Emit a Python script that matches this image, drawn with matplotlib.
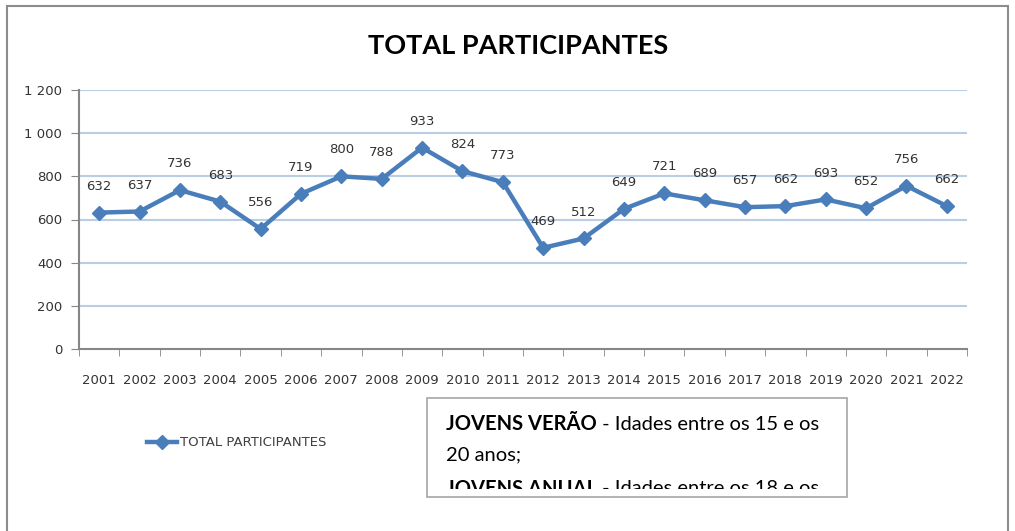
import matplotlib
matplotlib.use("Agg")
import matplotlib.pyplot as plt
from matplotlib.patches import Rectangle

# ==========================================
# Data
# ==========================================
years = [str(y) for y in range(2001, 2023)]
participants = [632, 637, 736, 683, 556, 719, 800, 788, 933, 824, 773,
                469, 512, 649, 721, 689, 657, 662, 693, 652, 756, 662]
y_ticks = [0, 200, 400, 600, 800, 1000, 1200]
y_tick_labels = ["0", "200", "400", "600", "800", "1 000", "1 200"]

W, H = 1015, 531
LINE_COLOR = "#4a7ebb"
GRID_COLOR = "#b9cde5"
AXIS_COLOR = "#868686"

def fx(px):
    return px / W

def fy(py):
    return 1 - py / H

fig = plt.figure(figsize=(W / 100, H / 100), dpi=100)

# outer chart border
fig.patches.append(Rectangle((fx(7), fy(535)), fx(1008) - fx(7), fy(6) - fy(535),
                             transform=fig.transFigure, fill=False,
                             edgecolor="#8c8c8c", linewidth=1.5))

ax = fig.add_axes([fx(79), fy(349), fx(967) - fx(79), fy(90) - fy(349)])
x = list(range(len(years)))
ax.plot(x, participants, color=LINE_COLOR, linewidth=3.2, marker="D",
        markersize=7, label="TOTAL PARTICIPANTES", zorder=3)

for xi, v in zip(x, participants):
    ax.annotate(str(v), (xi, v), xytext=(0, 19), textcoords="offset points",
                ha="center", va="center", fontsize=9.5, color="#333333")

ax.set_xlim(-0.5, len(years) - 0.5)
ax.set_ylim(0, 1200)
ax.set_yticks(y_ticks)
ax.set_yticklabels(y_tick_labels, fontsize=9.5, color="#333333")
ax.set_xticks(x)
ax.set_xticklabels(years, fontsize=9.5, color="#333333")
ax.set_xticks([i - 0.5 for i in range(len(years) + 1)], minor=True)
ax.tick_params(axis="x", which="major", length=0, pad=18)
ax.tick_params(axis="x", which="minor", length=5, color=AXIS_COLOR, direction="out")
ax.tick_params(axis="y", length=6, color=AXIS_COLOR, pad=6)

for t in y_ticks[1:]:
    ax.axhline(t, color=GRID_COLOR, linewidth=1.5, zorder=1)

for s in ["top", "right"]:
    ax.spines[s].set_visible(False)
ax.spines["left"].set_color(AXIS_COLOR)
ax.spines["bottom"].set_color(AXIS_COLOR)
ax.spines["left"].set_linewidth(1.5)
ax.spines["bottom"].set_linewidth(1.5)

fig.text(fx(518), fy(46), "TOTAL PARTICIPANTES", ha="center", va="center",
         fontsize=19.5, fontweight="bold", family="Lato")

# legend
fig.legend(handles=ax.get_lines()[:1], loc="center left",
           bbox_to_anchor=(fx(135), fy(443)), frameon=False,
           handlelength=2.3, handletextpad=0.2,
           prop={"family": "DejaVu Sans", "size": 9.5}, labelcolor="#404040")

# text box
bx0, by0, bx1, by1 = 427, 398, 847, 497
box = Rectangle((fx(bx0), fy(by1)), fx(bx1) - fx(bx0), fy(by0) - fy(by1),
                transform=fig.transFigure, fill=True, facecolor="white",
                edgecolor="#a6a6a6", linewidth=1.2)
fig.patches.append(box)
clip = Rectangle((fx(bx0), fy(489)), fx(bx1) - fx(bx0), fy(by0) - fy(489),
                 transform=fig.transFigure, visible=False)
fig.patches.append(clip)

lines = [
    ("JOVENS VERÃO", " - Idades entre os 15 e os", 424),
    ("", "20 anos;", 455),
    ("JOVENS ANUAL", " - Idades entre os 18 e os", 489),
]
for bold, rest, py in lines:
    tx = fx(446)
    if bold:
        t1 = fig.text(tx, fy(py), bold, ha="left", va="center", fontsize=14.5,
                      fontweight="bold", family="Lato")
        t1.set_clip_path(clip)
        fig.canvas.draw()
        bb = t1.get_window_extent()
        tx = bb.x1 / W
    t2 = fig.text(tx, fy(py), rest, ha="left", va="center", fontsize=14.5,
                  family="Lato")
    t2.set_clip_path(clip)

fig.savefig("out.png", dpi=100)
